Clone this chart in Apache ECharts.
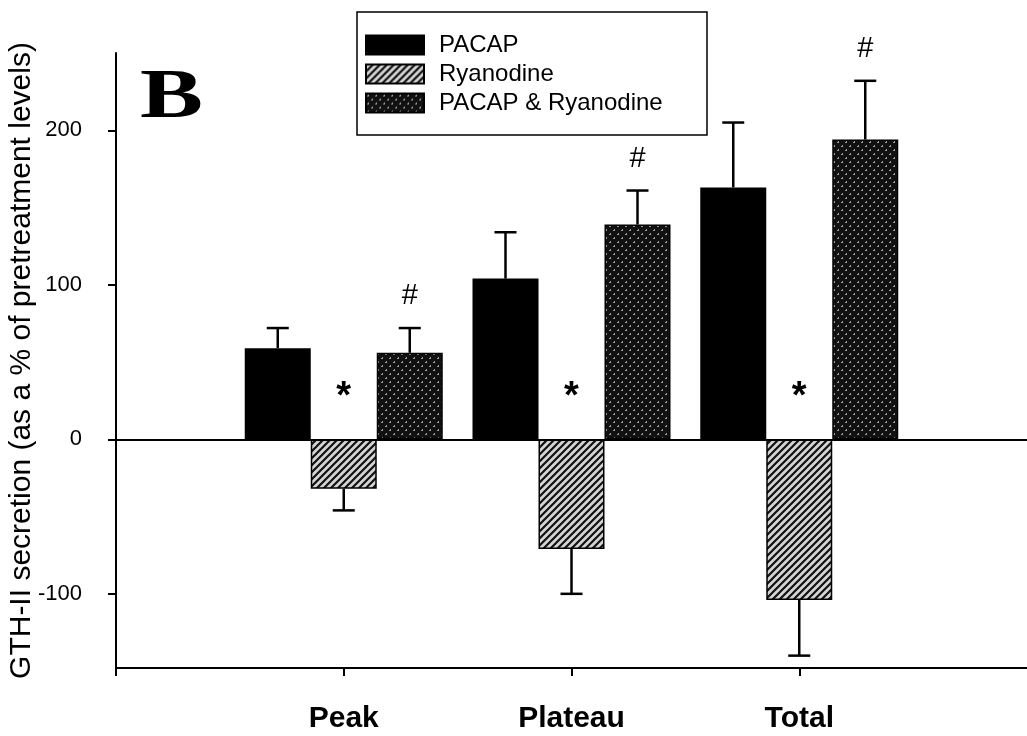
<!DOCTYPE html>
<html>
<head>
<meta charset="utf-8">
<script src="https://cdn.jsdelivr.net/npm/echarts@6/dist/echarts.min.js"></script>
<style>
  html, body { margin: 0; padding: 0; background: #fff; }
  #chart { width: 1027px; height: 736px; }
</style>
</head>
<body>
<div id="chart"></div>
<script>
// GTH-II secretion responses, mean and SEM per treatment
const categories = ['Peak', 'Plateau', 'Total'];
const seriesNames = ['PACAP', 'Ryanodine', 'PACAP & Ryanodine'];
const pacap = [59, 104, 163];
const pacapSem = [13, 30, 42];
const ryanodine = [-32, -71, -104];
const ryanodineSem = [14, 29, 36];
const combined = [56, 139, 194];
const combinedSem = [16, 22, 38];
const yTicks = [-100, 0, 100, 200];
const ryanodineMarks = ['*', '*', '*'];
const combinedMarks = ['#', '#', '#'];

const FONT = 'Arial, "Liberation Sans", sans-serif';
const BAR_W = 66;

// Fill tiles: diagonal hatch and dark speckle
function hatchTile() {
  const c = document.createElement('canvas');
  c.width = 7; c.height = 7;
  const g = c.getContext('2d');
  g.fillStyle = '#d4d4d4';
  g.fillRect(0, 0, 7, 7);
  g.strokeStyle = '#111';
  g.lineWidth = 2.2;
  g.beginPath();
  g.moveTo(-1, 8); g.lineTo(8, -1);
  g.moveTo(-1, 1); g.lineTo(1, -1);
  g.moveTo(6, 8); g.lineTo(8, 6);
  g.stroke();
  return c;
}
function speckleTile() {
  const c = document.createElement('canvas');
  c.width = 8; c.height = 8;
  const g = c.getContext('2d');
  g.fillStyle = '#111';
  g.fillRect(0, 0, 8, 8);
  g.fillStyle = '#9a9a9a';
  g.fillRect(1, 2, 1, 1); g.fillRect(2, 1, 1, 1); g.fillRect(2, 2, 1, 1);
  g.fillRect(5, 6, 1, 1); g.fillRect(6, 5, 1, 1); g.fillRect(6, 6, 1, 1);
  return c;
}

const fills = [
  '#000',
  { image: hatchTile(), repeat: 'repeat' },
  { image: speckleTile(), repeat: 'repeat' }
];

function barSeries(idx, values) {
  return {
    type: 'bar',
    name: seriesNames[idx],
    barWidth: BAR_W,
    barGap: '0%',
    data: categories.map((c, i) => [c, values[i]]),
    itemStyle: { color: fills[idx], borderColor: '#000', borderWidth: 1.5 },
    emphasis: { disabled: true },
    z: 2
  };
}

// Error bar drawn away from zero, optional marker text
function errorSeries(idx, values, sem, offset, marks, markMode) {
  return {
    type: 'custom',
    name: seriesNames[idx] + ' SEM',
    silent: true,
    z: 5,
    encode: { x: 0, y: [1, 2] },
    data: categories.map((c, i) => [c, values[i], values[i] + Math.sign(values[i]) * sem[i]]),
    renderItem(params, api) {
      const i = params.dataIndex;
      const base = api.coord([api.value(0), api.value(1)]);
      const end = api.coord([api.value(0), api.value(2)]);
      const zero = api.coord([api.value(0), 0]);
      const x = base[0] + offset;
      const st = { stroke: '#000', lineWidth: 2.5 };
      const children = [
        { type: 'line', shape: { x1: x, y1: base[1], x2: x, y2: end[1] }, style: st },
        { type: 'line', shape: { x1: x - 11, y1: end[1], x2: x + 11, y2: end[1] }, style: st }
      ];
      if (marks) {
        const ty = markMode === 'zero' ? zero[1] - 42 : end[1] - 32;
        children.push({
          type: 'text',
          style: {
            text: marks[i], x: x, y: ty,
            fill: '#000', align: 'center', verticalAlign: 'middle',
            font: (markMode === 'zero' ? 'bold 38px ' : '29px ') + FONT
          }
        });
      }
      return { type: 'group', children };
    }
  };
}

const chart = echarts.init(document.getElementById('chart'), null, { renderer: 'canvas' });

const pacapBars = barSeries(0, pacap);
pacapBars.markLine = {
  silent: true,
  symbol: 'none',
  label: { show: false },
  lineStyle: { color: '#000', width: 2, type: 'solid' },
  data: [{ yAxis: 0 }]
};

chart.setOption({
  animation: false,
  backgroundColor: '#fff',
  grid: { left: 116, right: 0, top: 53, bottom: 68, containLabel: false, outerBoundsMode: 'none' },
  legend: {
    data: seriesNames,
    orient: 'vertical',
    left: 365,
    top: 33,
    padding: 0,
    itemWidth: 58,
    itemHeight: 19,
    itemGap: 5,
    icon: 'rect',
    selectedMode: false,
    textStyle: { fontFamily: FONT, fontSize: 24, color: '#000', padding: [0, 0, 0, 10] }
  },
  graphic: [
    {
      type: 'rect',
      shape: { x: 357, y: 12, width: 350, height: 123 },
      style: { fill: '#fff', stroke: '#000', lineWidth: 1.5 },
      z: -1
    },
    {
      type: 'text',
      left: 140,
      top: 64,
      scaleX: 1.35,
      style: { text: 'B', font: 'bold 70px "Liberation Serif", "Times New Roman", serif', fill: '#000' }
    }
  ],
  xAxis: {
    type: 'category',
    data: ['', ...categories, ''],
    boundaryGap: false,
    axisLine: { onZero: false, lineStyle: { color: '#000', width: 2 } },
    axisTick: { length: 8, interval: (i) => i < 4, lineStyle: { color: '#000', width: 2 } },
    axisLabel: { margin: 36, fontFamily: FONT, fontSize: 30, fontWeight: 'bold', color: '#000' },
    splitLine: { show: false }
  },
  yAxis: {
    type: 'value',
    min: -148,
    max: 250,
    name: 'GTH-II secretion (as a % of pretreatment levels)',
    nameLocation: 'middle',
    nameGap: 79,
    nameMoveOverlap: false,
    nameTextStyle: { fontFamily: FONT, fontSize: 30, color: '#000' },
    axisLine: { show: true, lineStyle: { color: '#000', width: 2 } },
    axisTick: { show: true, length: 8, customValues: yTicks, lineStyle: { color: '#000', width: 2 } },
    axisLabel: { margin: 34, customValues: yTicks, fontFamily: FONT, fontSize: 22, color: '#000' },
    splitLine: { show: false }
  },
  series: [
    pacapBars,
    barSeries(1, ryanodine),
    barSeries(2, combined),
    errorSeries(0, pacap, pacapSem, -BAR_W, null, null),
    errorSeries(1, ryanodine, ryanodineSem, 0, ryanodineMarks, 'zero'),
    errorSeries(2, combined, combinedSem, BAR_W, combinedMarks, 'cap')
  ]
});
</script>
</body>
</html>
